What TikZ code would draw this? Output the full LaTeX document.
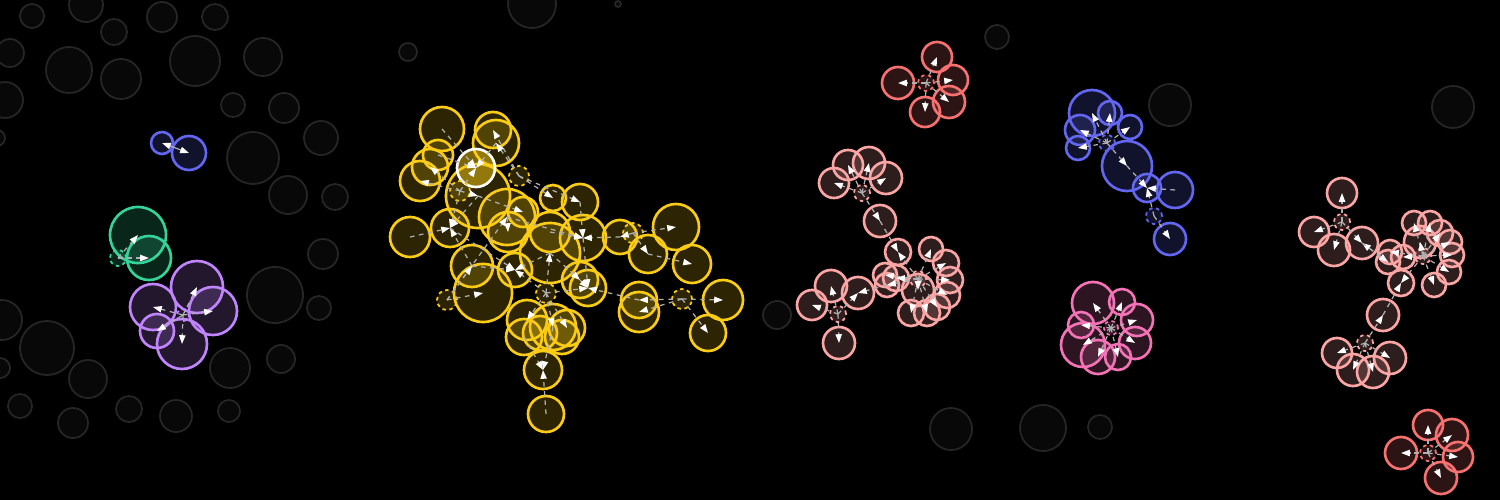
\documentclass[tikz,border=0pt]{standalone}
\usetikzlibrary{arrows.meta}
\definecolor{ycol}{HTML}{FACC15}
\definecolor{rcol}{HTML}{F87171}
\definecolor{scol}{HTML}{FCA5A5}
\definecolor{bcol}{HTML}{6366F1}
\definecolor{kcol}{HTML}{F472B6}
\definecolor{gcol}{HTML}{34D399}
\definecolor{pcol}{HTML}{C084FC}
\definecolor{ghostline}{HTML}{262628}
\definecolor{ghostfill}{HTML}{080808}
\definecolor{linkgray}{HTML}{B0B0B0}

\begin{document}
\begin{tikzpicture}[x=0.01cm,y=-0.01cm,
  bub/.style={circle,inner sep=0pt,outer sep=0pt,draw=#1,line width=0.75pt,fill=#1,fill opacity=0.18},
  hub/.style={bub=#1,dash pattern=on 1pt off 1pt,line width=0.5pt},
  wbub/.style={circle,inner sep=0pt,outer sep=0pt,draw=white,line width=0.75pt,fill=ycol,fill opacity=0.5},
  ghost/.style={circle,inner sep=0pt,outer sep=0pt,draw=ghostline,line width=0.5pt,fill=ghostfill},
  lnk/.style={draw=linkgray,dash pattern=on 1.3pt off 1.3pt,line width=0.35pt,-{Triangle[length=2.5pt,width=1.8pt,color=white]}}]
  \fill[black] (0,0) rectangle (1500,500);
  \useasboundingbox (0,0) rectangle (1500,500);

  \foreach \x/\y/\r [count=\i] in {32/16/12,86/5/17,114/32/13,162/17/15,215/17/13,10/53/14,69/70/23,121/79/20,195/61/25,263/57/19,5/100/18,233/105/12,284/108/15,321/138/17,253/158/26,288/195/19,335/197/13,323/254/15,275/295/28,319/308/12,2/320/20,47/348/27,88/379/19,0/368/10,-3/138/8,230/368/20,281/359/14,20/406/12,73/423/15,129/409/13,176/416/16,229/411/11,532/4/24,618/4/3,408/52/9,777/315/14,951/429/21,1043/428/23,1100/427/12,997/37/12,1170/105/21,1453/107/21}
    \node[ghost,minimum size=\r*0.02cm] (bg\i) at (\x,\y) {};

  \node[bub=bcol,minimum size=0.22cm] (a1) at (162,143) {};
  \node[bub=bcol,minimum size=0.34cm] (a2) at (189,153) {};
  \draw[lnk,dash pattern=,{Triangle[length=2.5pt,width=1.8pt,color=white]}-{Triangle[length=2.5pt,width=1.8pt,color=white]}] (a1.center) -- (a2.center);

  \node[bub=gcol,minimum size=0.56cm] (g1) at (138,235) {};
  \node[bub=gcol,minimum size=0.44cm] (g2) at (149,258) {};
  \node[hub=gcol,minimum size=0.16cm] (gh) at (118,258) {};

  \foreach \n/\x/\y/\r in {p1/197/287/26,p2/213/311/24,p3/153/307/23,p4/157/331/17,p5/182/344/25}
    \node[bub=pcol,minimum size=\r*0.02cm] (\n) at (\x,\y) {};
  \node[hub=pcol,minimum size=0.12cm] (ph) at (183,315) {};

  \foreach \n/\x/\y/\r in {y1/442/129/22,y2/493/130/18,y3/496/143/23,y4/438/155/15,y5/430/167/18,y6/420/181/20,y7/478/196/32,y8/410/237/20,y9/450/228/19,y10/507/217/28,y11/523/212/15,y12/508/232/20,y13/553/198/13,y14/580/202/18,y15/550/232/20,y16/550/253/30,y17/583/238/23,y18/620/237/17,y19/676/227/23,y20/648/254/19,y21/692/264/19,y22/472/266/21,y23/483/293/29,y24/515/270/17,y25/580/280/18,y26/588/288/18,y27/639/300/18,y28/639/312/20,y29/723/300/20,y30/708/333/18,y31/527/320/20,y32/524/337/18,y33/540/333/17,y34/553/327/23,y35/567/328/18,y36/562/337/17,y37/543/370/19,y38/546/414/18}
    \node[bub=ycol,minimum size=\r*0.02cm] (\n) at (\x,\y) {};
  \node[wbub,minimum size=0.38cm] (yw) at (476,168) {};
  \foreach \n/\x/\y in {yh1/519/176,yh2/460/191,yh3/633/233,yh4/447/300,yh5/546/293,yh6/682/299}
    \node[hub=ycol,minimum size=0.2cm] (\n) at (\x,\y) {};

  \foreach \n/\x/\y/\r in {r1/937/57/15,r2/898/83/16,r3/953/80/15,r4/949/102/16,r5/925/112/15,r6/1428/425/15,r7/1452/435/16,r8/1458/457/15,r9/1401/453/16,r10/1441/478/16}
    \node[bub=rcol,minimum size=\r*0.02cm] (\n) at (\x,\y) {};
  \node[hub=rcol,minimum size=0.16cm] (rh1) at (926,83) {};
  \node[hub=rcol,minimum size=0.16cm] (rh2) at (1428,453) {};

  \foreach \n/\x/\y/\r in {s1/834/183/15,s2/848/165/15,s3/869/163/16,s4/886/178/16,s5/880/221/16,s6/898/252/13,s7/931/249/12,s8/946/263/13,s9/950/280/13,s10/947/295/13,s11/937/307/13,s12/927/313/13,s13/911/313/13,s14/918/290/16,s15/887/285/12,s16/885/275/12,s17/896/278/13,s18/812/305/15,s19/831/286/16,s20/858/293/16,s21/839/343/16}
    \node[bub=scol,minimum size=\r*0.02cm] (\n) at (\x,\y) {};
  \foreach \n/\x/\y in {sh1/862/193,sh2/918/279,sh3/838/314}
    \node[hub=scol,minimum size=0.16cm] (\n) at (\x,\y) {};

  \foreach \n/\x/\y/\r in {b1/1092/113/23,b2/1110/113/12,b3/1130/127/12,b4/1080/130/15,b5/1078/148/12,b6/1127/166/25,b7/1147/188/14,b8/1175/190/18,b9/1170/239/16}
    \node[bub=bcol,minimum size=\r*0.02cm] (\n) at (\x,\y) {};
  \node[hub=bcol,minimum size=0.16cm] (bh1) at (1107,143) {};
  \node[hub=bcol,minimum size=0.16cm] (bh2) at (1154,216) {};

  \foreach \n/\x/\y/\r in {k1/1093/303/21,k2/1122/302/13,k3/1137/320/16,k4/1081/325/13,k5/1135/343/16,k6/1083/345/22,k7/1098/357/17,k8/1118/357/13}
    \node[bub=kcol,minimum size=\r*0.02cm] (\n) at (\x,\y) {};
  \node[hub=kcol,minimum size=0.14cm] (kh) at (1111,328) {};

  \foreach \n/\x/\y/\r in {t1/1342/193/15,t2/1314/232/15,t3/1334/250/16,t4/1362/243/16,t5/1414/223/12,t6/1430/223/12,t7/1440/233/13,t8/1450/242/12,t9/1452/255/12,t10/1449/272/12,t11/1434/285/12,t12/1401/283/13,t13/1388/262/12,t14/1390/252/12,t15/1403/257/12,t16/1420/242/16,t17/1383/315/16,t18/1337/353/15,t19/1390/358/16,t20/1353/370/16,t21/1373/372/16}
    \node[bub=scol,minimum size=\r*0.02cm] (\n) at (\x,\y) {};
  \foreach \n/\x/\y in {th1/1342/222,th2/1423/256,th3/1365/343}
    \node[hub=scol,minimum size=0.16cm] (\n) at (\x,\y) {};

  \foreach \a/\b in {gh/g1,gh/g2,ph/p1,ph/p2,ph/p3,ph/p4,ph/p5,
    yh2/yw,yh2/y6,yh2/y5,yh2/y7,y1/yw,y3/yw,y4/yw,yh1/y2,yh1/y3,yh1/y13,yh1/y14,y7/y11,y10/y12,yh4/y10,
    y8/y9,yh2/y9,y22/y9,y7/y9,y10/y17,y15/y17,y18/y17,y14/y17,yh5/y16,y22/y24,y16/y24,y9/y24,yh5/y24,
    yh4/y23,yh5/y26,y25/y26,y27/y26,y17/y26,y16/y25,yh3/y19,yh3/y20,yh3/y18,y20/y21,
    yh6/y29,yh6/y30,yh6/y27,yh6/y28,y38/y37,y34/y37,y32/y37,yh5/y34,yh5/y31,yh5/y35,yh4/y22,
    rh1/r1,rh1/r2,rh1/r3,rh1/r4,rh1/r5,rh2/r6,rh2/r7,rh2/r8,rh2/r9,rh2/r10,
    sh1/s1,sh1/s2,sh1/s3,sh1/s4,sh1/s5,s5/s6,sh2/s6,sh2/s7,sh2/s8,sh2/s9,sh2/s10,sh2/s11,sh2/s12,sh2/s13,sh2/s14,sh2/s15,sh2/s16,sh2/s17,
    sh3/s18,sh3/s19,sh3/s20,sh3/s21,s15/s20,
    bh1/b1,bh1/b2,bh1/b3,bh1/b4,bh1/b5,bh1/b6,b6/b7,b8/b7,bh2/b7,bh2/b9,
    kh/k1,kh/k2,kh/k3,kh/k4,kh/k5,kh/k6,kh/k7,kh/k8,
    th1/t1,th1/t2,th1/t3,th1/t4,t13/t4,t4/t13,th2/t5,th2/t6,th2/t7,th2/t8,th2/t9,th2/t10,th2/t11,th2/t12,th2/t14,th2/t15,th2/t16,
    th3/t17,th3/t18,th3/t19,th3/t20,th3/t21,t17/t12}
    \draw[lnk] (\a.center) -- (\b.center);
\end{tikzpicture}
\end{document}
